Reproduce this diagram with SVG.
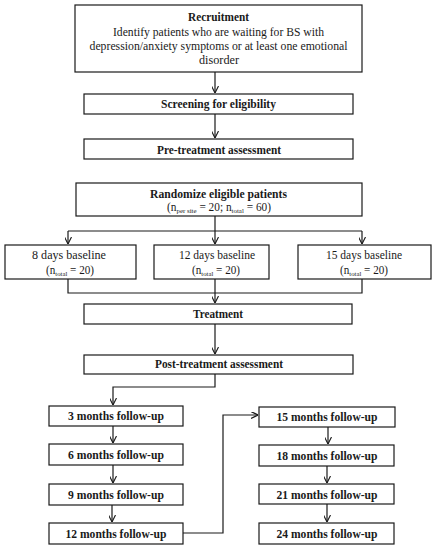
<svg xmlns="http://www.w3.org/2000/svg" width="437" height="550" viewBox="0 0 437 550">
<style>
rect{fill:#fff;stroke:#1a1a1a;stroke-width:1.2}
rect.bg{fill:#fff;stroke:none}
text{font-family:"Liberation Serif","Times New Roman",serif;font-size:11.5px;fill:#1a1a1a;text-anchor:middle}
.b{font-weight:bold}
.sub{font-size:7px}
#connectors path{fill:none;stroke:#1a1a1a;stroke-width:1.2}
</style>
<defs>
<marker id="ah" viewBox="0 0 10 10" refX="10" refY="5" markerWidth="7" markerHeight="7" markerUnits="userSpaceOnUse" orient="auto">
<path d="M0,0 L10,5 L0,10" fill="none" stroke="#1a1a1a" stroke-width="1.6"/>
</marker>
</defs>
<rect class="bg" width="437" height="550"/>
<g id="connectors">
<path d="M215,72 V93" marker-end="url(#ah)"/>
<path d="M215,114 V138" marker-end="url(#ah)"/>
<path d="M215,216 V244" marker-end="url(#ah)"/>
<path d="M68,231 H362"/>
<path d="M68,231 V244" marker-end="url(#ah)"/>
<path d="M362,231 V244" marker-end="url(#ah)"/>
<path d="M68,279 V293 H362 V279"/>
<path d="M215,279 V303" marker-end="url(#ah)"/>
<path d="M215,324 V354" marker-end="url(#ah)"/>
<path d="M215,374 V387 H113 V405" marker-end="url(#ah)"/>
<path d="M113,426 V443" marker-end="url(#ah)"/>
<path d="M113,465 V483" marker-end="url(#ah)"/>
<path d="M112,505 V522" marker-end="url(#ah)"/>
<path d="M183,533 H223 V415 H258" marker-end="url(#ah)"/>
<path d="M328,427 V444" marker-end="url(#ah)"/>
<path d="M327,466 V483" marker-end="url(#ah)"/>
<path d="M327,504 V522" marker-end="url(#ah)"/>
</g>
<g id="recruitment">
<rect x="75" y="5" width="287" height="67"/>
<text x="218.5" y="21" class="b" textLength="61" lengthAdjust="spacingAndGlyphs">Recruitment</text>
<text x="218.5" y="36" textLength="211" lengthAdjust="spacingAndGlyphs">Identify patients who are waiting for BS with</text>
<text x="218.5" y="50" textLength="258" lengthAdjust="spacingAndGlyphs">depression/anxiety symptoms or at least one emotional</text>
<text x="219" y="64" textLength="40" lengthAdjust="spacingAndGlyphs">disorder</text>
</g>
<g id="screening">
<rect x="84" y="94" width="269" height="20"/>
<text x="218.5" y="108" class="b" textLength="115" lengthAdjust="spacingAndGlyphs">Screening for eligibility</text>
</g>
<g id="pretreatment">
<rect x="84" y="139" width="269" height="20"/>
<text x="219" y="154" class="b" textLength="124" lengthAdjust="spacingAndGlyphs">Pre-treatment assessment</text>
</g>
<g id="randomize">
<rect x="76" y="183" width="286" height="33"/>
<text x="218.5" y="198" class="b" textLength="137" lengthAdjust="spacingAndGlyphs">Randomize eligible patients</text>
<text x="219" y="211" textLength="104" lengthAdjust="spacingAndGlyphs">(n<tspan class="sub" dy="2">per site</tspan><tspan dy="-2"> = 20; n</tspan><tspan class="sub" dy="2">total</tspan><tspan dy="-2"> = 60)</tspan></text>
</g>
<g id="baseline8">
<rect x="5" y="245" width="131" height="34"/>
<text x="69" y="259" textLength="74" lengthAdjust="spacingAndGlyphs">8 days baseline</text>
<text x="70" y="274" textLength="48" lengthAdjust="spacingAndGlyphs">(n<tspan class="sub" dy="2">total</tspan><tspan dy="-2"> = 20)</tspan></text>
</g>
<g id="baseline12">
<rect x="154" y="245" width="115" height="34"/>
<text x="217" y="259" textLength="76" lengthAdjust="spacingAndGlyphs">12 days baseline</text>
<text x="216" y="274" textLength="48" lengthAdjust="spacingAndGlyphs">(n<tspan class="sub" dy="2">total</tspan><tspan dy="-2"> = 20)</tspan></text>
</g>
<g id="baseline15">
<rect x="298" y="245" width="133" height="34"/>
<text x="364" y="259" textLength="76" lengthAdjust="spacingAndGlyphs">15 days baseline</text>
<text x="364" y="274" textLength="48" lengthAdjust="spacingAndGlyphs">(n<tspan class="sub" dy="2">total</tspan><tspan dy="-2"> = 20)</tspan></text>
</g>
<g id="treatment">
<rect x="84" y="304" width="268" height="20"/>
<text x="218" y="318" class="b" textLength="50" lengthAdjust="spacingAndGlyphs">Treatment</text>
</g>
<g id="posttreatment">
<rect x="84" y="355" width="269" height="19"/>
<text x="219" y="368" class="b" textLength="128" lengthAdjust="spacingAndGlyphs">Post-treatment assessment</text>
</g>
<g id="fu3">
<rect x="49" y="406" width="134" height="20"/>
<text x="116" y="420" class="b" textLength="96" lengthAdjust="spacingAndGlyphs">3 months follow-up</text>
</g>
<g id="fu6">
<rect x="49" y="444" width="134" height="21"/>
<text x="116" y="459" class="b" textLength="96" lengthAdjust="spacingAndGlyphs">6 months follow-up</text>
</g>
<g id="fu9">
<rect x="49" y="484" width="134" height="21"/>
<text x="116" y="499" class="b" textLength="96" lengthAdjust="spacingAndGlyphs">9 months follow-up</text>
</g>
<g id="fu12">
<rect x="49" y="523" width="134" height="21"/>
<text x="116" y="538" class="b" textLength="101" lengthAdjust="spacingAndGlyphs">12 months follow-up</text>
</g>
<g id="fu15">
<rect x="259" y="407" width="136" height="20"/>
<text x="327" y="421" class="b" textLength="101" lengthAdjust="spacingAndGlyphs">15 months follow-up</text>
</g>
<g id="fu18">
<rect x="259" y="445" width="135" height="21"/>
<text x="327" y="460" class="b" textLength="101" lengthAdjust="spacingAndGlyphs">18 months follow-up</text>
</g>
<g id="fu21">
<rect x="259" y="484" width="135" height="20"/>
<text x="327" y="499" class="b" textLength="101" lengthAdjust="spacingAndGlyphs">21 months follow-up</text>
</g>
<g id="fu24">
<rect x="259" y="523" width="135" height="21"/>
<text x="327" y="538" class="b" textLength="101" lengthAdjust="spacingAndGlyphs">24 months follow-up</text>
</g>
</svg>
